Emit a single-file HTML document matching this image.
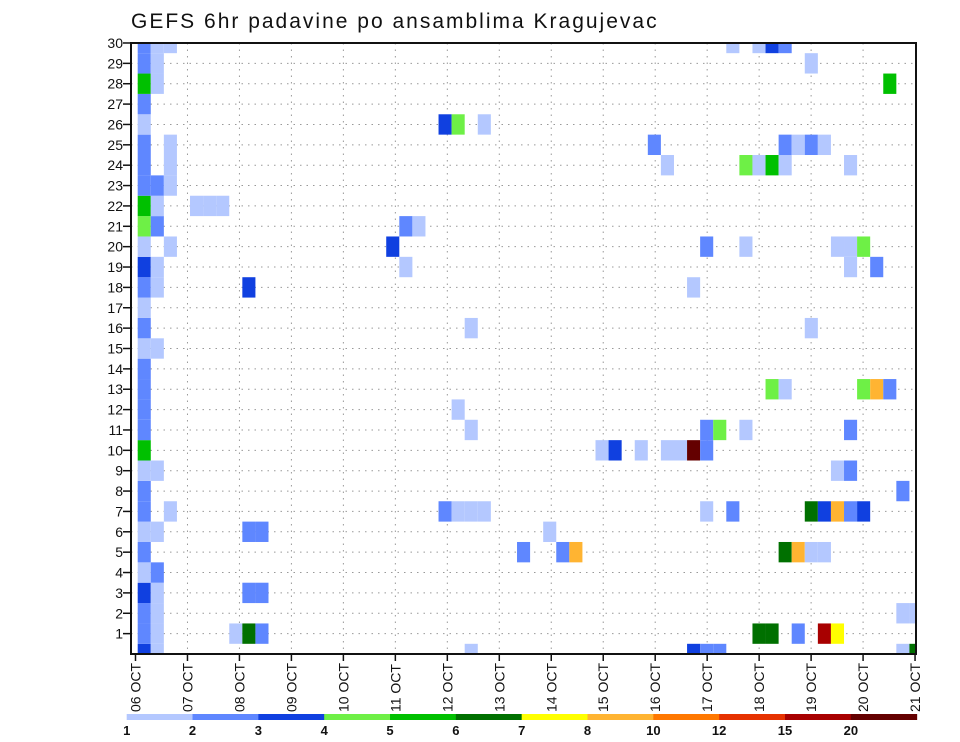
<!DOCTYPE html>
<html><head><meta charset="utf-8"><style>
html,body{margin:0;padding:0;background:#fff;}
svg{display:block;font-family:"Liberation Sans",sans-serif;}
</style></head><body>
<svg id="chart" width="960" height="742" viewBox="0 0 960 742" xmlns="http://www.w3.org/2000/svg">
<rect x="0" y="0" width="960" height="742" fill="#fff"/>
<text x="131" y="28" font-size="21" letter-spacing="2" fill="#111">GEFS 6hr padavine po ansamblima Kragujevac</text>
<defs><clipPath id="plotclip"><rect x="131" y="43" width="785" height="611"/></clipPath></defs>
<g id="grid"></g>
<g id="cells" clip-path="url(#plotclip)"></g>
<g id="axes"></g>
<g id="legend"></g>
</svg>
<script>
// ---- data ----
const dayLabels = ["06 OCT","07 OCT","08 OCT","09 OCT","10 OCT","11 OCT","12 OCT","13 OCT","14 OCT","15 OCT","16 OCT","17 OCT","18 OCT","19 OCT","20 OCT","21 OCT"];
const memberTicks = [1,2,3,4,5,6,7,8,9,10,11,12,13,14,15,16,17,18,19,20,21,22,23,24,25,26,27,28,29,30];
const levelLabels = ["1","2","3","4","5","6","7","8","10","12","15","20"];
const levelColors = ["#b4c8ff","#5f87ff","#1040e0","#6ef046","#00c000","#007000","#ffff00","#ffb432","#ff7800","#e63200","#a80000","#640000"];
// per ensemble member (index 0..30): 6h time-step indices with precip, and precip class (1..12)
const stepsByMember = [
 [0,1,25,42,43,44,58,59],
 [0,1,7,8,9,47,48,50,52,53],
 [0,1,58,59],
 [0,1,8,9],
 [0,1],
 [0,29,32,33,49,50,51,52],
 [0,1,8,9,31],
 [0,2,23,24,25,26,43,45,51,52,53,54,55],
 [0,58],
 [0,1,53,54],
 [0,35,36,38,40,41,42,43],
 [0,25,43,44,46,54],
 [0,24],
 [0,48,49,55,56,57],
 [0],
 [0,1],
 [0,25,51],
 [0],
 [0,1,8,42],
 [0,1,20,54,56],
 [0,2,19,43,46,53,54,55],
 [0,1,20,21],
 [0,1,4,5,6],
 [0,1,2],
 [0,2,40,46,47,48,49,54],
 [0,2,39,49,50,51,52],
 [0,23,24,26],
 [0],
 [0,1,57],
 [0,1,51],
 [0,1,2,45,47,48,49]
];
const levelsByMember = [
 [3,1,1,3,2,2,1,6],
 [2,1,1,6,2,6,6,2,11,7],
 [2,1,1,1],
 [3,1,2,2],
 [1,2],
 [2,2,2,8,6,8,1,1],
 [1,1,2,2,1],
 [2,1,2,1,1,1,1,2,6,3,8,2,3],
 [2,2],
 [1,1,1,2],
 [5,1,3,1,1,1,12,2],
 [2,1,2,4,1,2],
 [2,1],
 [2,4,1,4,8,2],
 [2],
 [1,1],
 [2,1,1],
 [1],
 [2,1,3,1],
 [3,1,1,1,2],
 [1,1,3,2,1,1,1,4],
 [4,2,2,1],
 [5,1,1,1,1],
 [2,2,1],
 [2,1,1,4,1,5,1,1],
 [2,1,2,2,1,2,1],
 [1,3,4,1],
 [2],
 [5,1,5],
 [2,1,1],
 [2,1,1,1,1,3,2]
];

// ---- scales ----
const X0 = 137.7, STEP = 13.08;
function xStep(i){ return X0 + STEP*i; }
function xDay(d){ return 135.5 + 51.97*d; }
const YBOT = 654, ROWH = 20.367;
function yMember(m){ return YBOT - ROWH*m; }
const NS = "http://www.w3.org/2000/svg";
function mk(tag, attrs, parent){ const e=document.createElementNS(NS,tag); for(const k in attrs) e.setAttribute(k,attrs[k]); parent.appendChild(e); return e; }

// grid
const grid = document.getElementById('grid');
memberTicks.forEach(m=>{
  if(m===30) return;
  const l = mk('line',{x1:131,x2:916,y1:yMember(m),y2:yMember(m),stroke:'#999','stroke-width':1,'stroke-dasharray':'1.5 5'},grid);
  
  
});
dayLabels.forEach((d,i)=>{
  if(i===0||i===dayLabels.length-1) return;
  const l = mk('line',{x1:xDay(i),x2:xDay(i),y1:43,y2:654,stroke:'#999','stroke-width':1,'stroke-dasharray':'1.5 5'},grid);
  
  
});

// cells
const cells = document.getElementById('cells');
stepsByMember.forEach((steps,m)=>{
  steps.forEach((s,k)=>{
    const r = mk('rect',{x:xStep(s),y:yMember(m)-ROWH/2,width:STEP,height:ROWH,fill:levelColors[levelsByMember[m][k]-1]},cells);
    
    
  });
});

// axes
const axes = document.getElementById('axes');
const frame = mk('rect',{x:131,y:43,width:785,height:611,fill:'none',stroke:'#111','stroke-width':2},axes);


memberTicks.forEach(m=>{
  const y = yMember(m);
  mk('line',{x1:123,x2:131,y1:y,y2:y,stroke:'#111','stroke-width':1.5},axes);
  const t = mk('text',{x:123,y:y+5,'text-anchor':'end','font-size':14,fill:'#111'},axes);
  t.textContent = m;
  
  
});
dayLabels.forEach((d,i)=>{
  const x = xDay(i);
  mk('line',{x1:x,x2:x,y1:654,y2:661,stroke:'#111','stroke-width':1.5},axes);
  const t = mk('text',{x:0,y:0,'font-size':14,fill:'#111',transform:'translate('+(x+5)+',712) rotate(-90)'},axes);
  t.textContent = d;
  
  
});

// legend colorbar
const legend = document.getElementById('legend');
const LX0 = 126.7, LW = 65.83;
levelColors.forEach((c,i)=>{
  const r = mk('rect',{x:LX0+LW*i,y:714,width:LW+0.5,height:6,fill:c},legend);
  
  
});
levelLabels.forEach((s,i)=>{
  const t = mk('text',{x:LX0+LW*i,y:735,'text-anchor':'middle','font-size':13,'font-weight':'bold',fill:'#111'},legend);
  t.textContent = s;
  
  
});
</script>
</body></html>
